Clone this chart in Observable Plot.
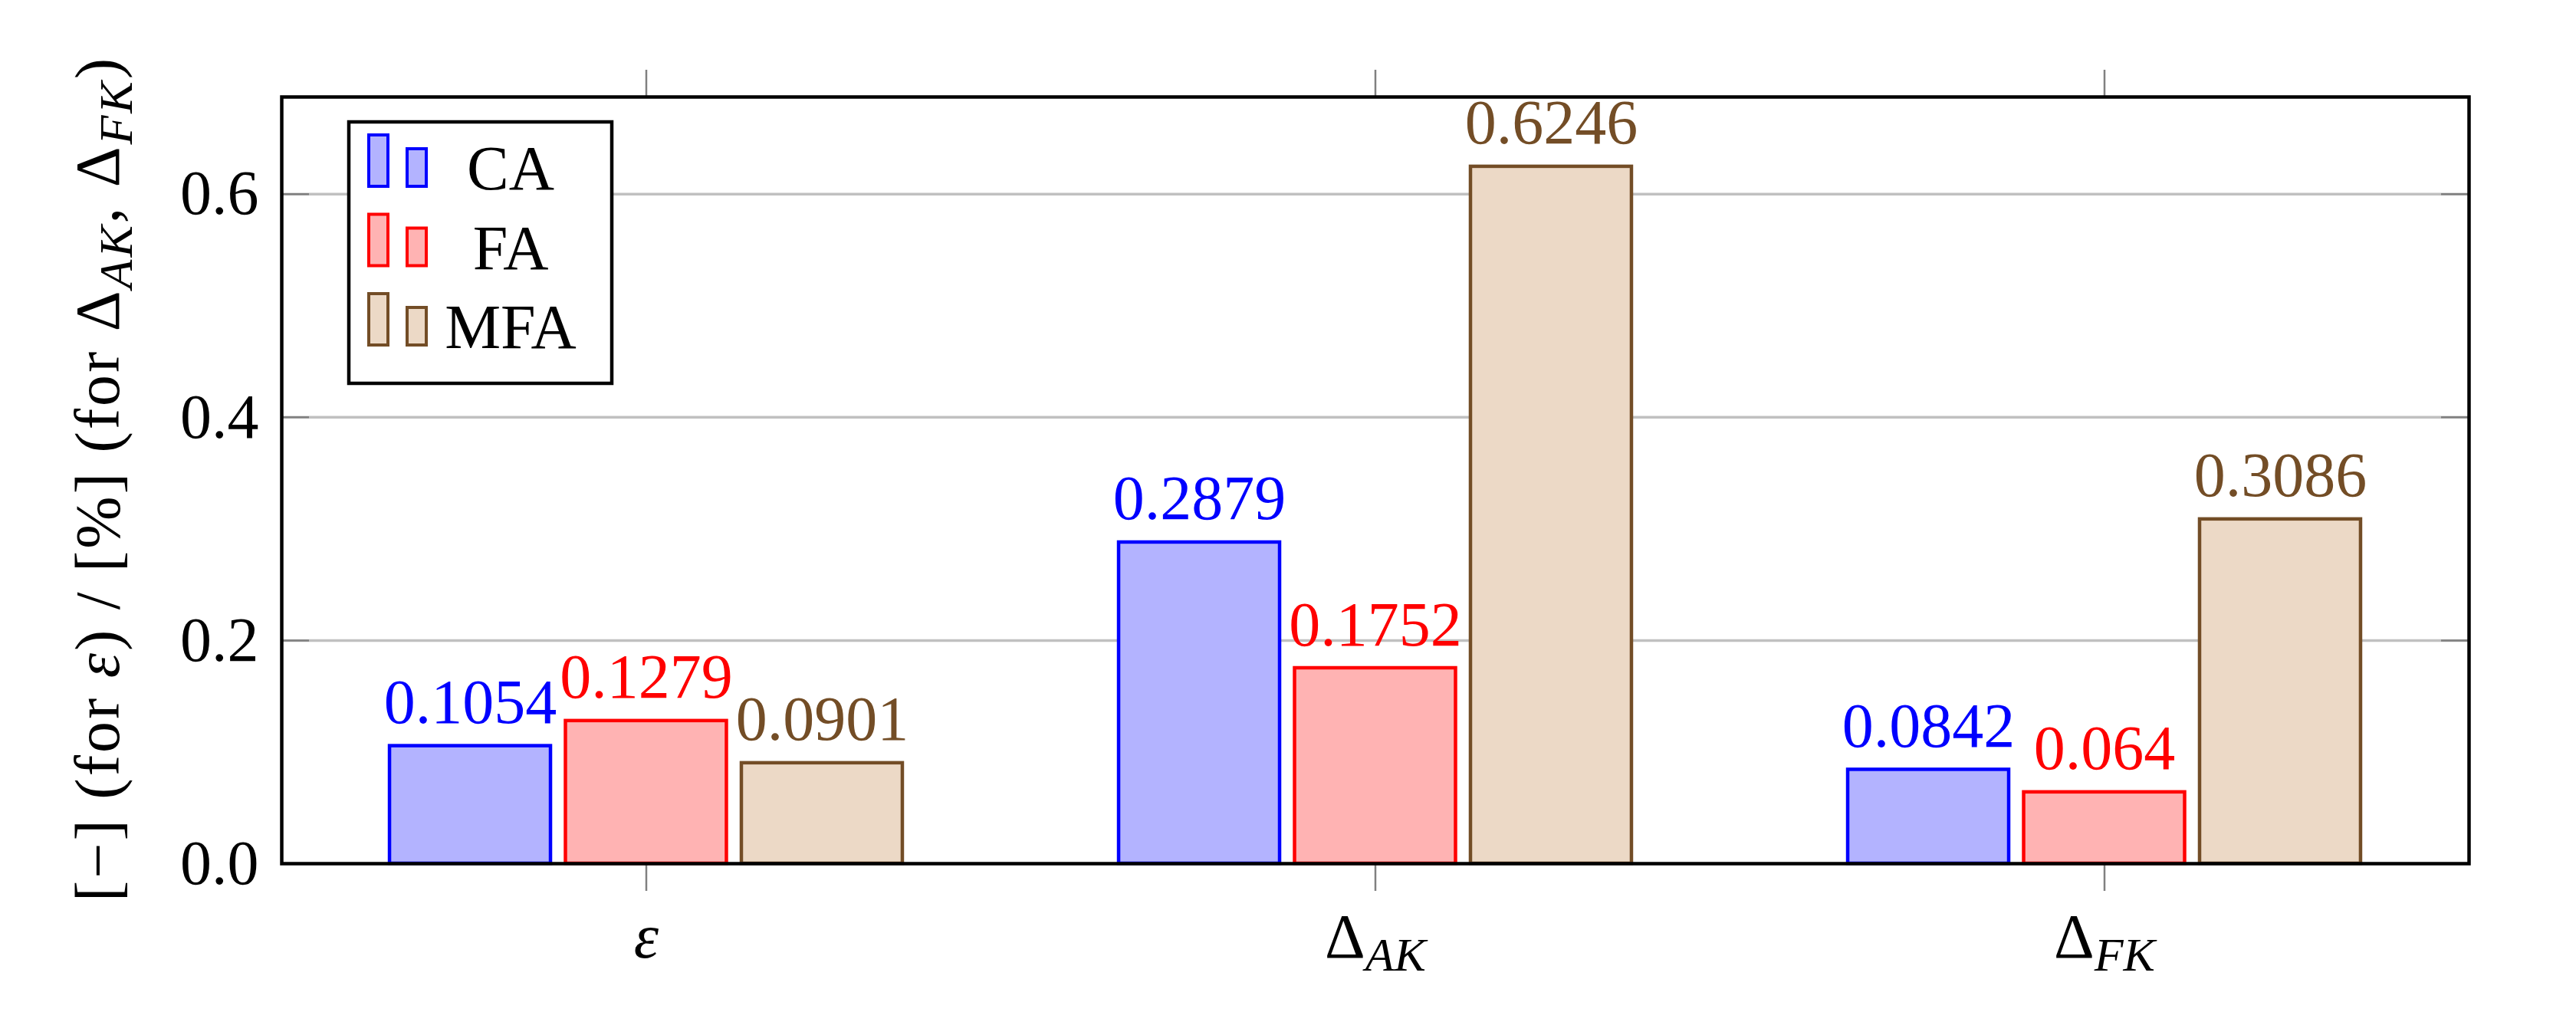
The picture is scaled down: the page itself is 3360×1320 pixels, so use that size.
<!DOCTYPE html>
<html>
<head>
<meta charset="utf-8">
<script src="https://cdn.jsdelivr.net/npm/d3@7"></script>
<script src="https://cdn.jsdelivr.net/npm/@observablehq/plot@0.6"></script>
<style>
  html, body { margin: 0; padding: 0; background: #ffffff; }
  #chart svg { font-family: "Liberation Serif", "DejaVu Serif", serif; }
</style>
</head>
<body>
<div id="chart"></div>
<script>
// ---- data ----
const categories = ["ε", "Δ_AK", "Δ_FK"];
const series = ["CA", "FA", "MFA"];
const CA = [0.1054, 0.2879, 0.0842];
const FA = [0.1279, 0.1752, 0.064];
const MFA = [0.0901, 0.6246, 0.3086];
const yTicks = [0, 0.2, 0.4, 0.6];
const yLabelParts = [["[−] (for ", ""], ["ε", "it"], [") / [%] (for Δ", ""], ["AK", "sub"], [", Δ", ""], ["FK", "sub"], [")", ""]];

// ---- styles ----
const strokeColors = ["#0000ff", "#ff0000", "#734d26"];
const fillColors = ["#b3b3ff", "#ffb3b3", "#ecd9c6"];

const values = [CA, FA, MFA];
const rows = [];
series.forEach((s, i) => categories.forEach((c, j) => rows.push({category: c, series: s, si: i, value: values[i][j]})));

const W = 3360, H = 1320;
const mL = 367, mR = 140, mT = 126, mB = 194;
const plotW = W - mL - mR;
const step = plotW / categories.length;
const barW = step * 0.2208;      // rect geometry width
const pitch = step * 0.2413;     // distance between bar centres
const FS = 82;

const yMax = Math.max(...CA, ...FA, ...MFA) * 1.1;

const marks = [
  Plot.gridY(yTicks.filter(d => d > 0), {stroke: "#c0c0c0", strokeOpacity: 1, strokeWidth: 3.5})
];
series.forEach((s, i) => {
  const off = (i - 1) * pitch;
  const base = (step - barW) / 2;
  const data = rows.filter(r => r.si === i);
  marks.push(Plot.barY(data, {
    x: "category", y: "value",
    fill: fillColors[i], stroke: strokeColors[i], strokeWidth: 4.5,
    insetLeft: base + off, insetRight: base - off
  }));
  marks.push(Plot.text(data, {
    x: "category", y: "value", text: d => String(d.value),
    dx: off, dy: -30, lineAnchor: "bottom", textAnchor: "middle",
    fill: strokeColors[i], fontSize: FS
  }));
});
marks.push(
  Plot.tickY(yTicks, {y: d => d, insetRight: plotW - 36, stroke: "#808080", strokeWidth: 2.5}),
  Plot.tickY(yTicks, {y: d => d, insetLeft: plotW - 36, stroke: "#808080", strokeWidth: 2.5}),
  Plot.axisX({anchor: "bottom", tickSize: 36, tickPadding: 28, stroke: "#808080", strokeWidth: 2.5, fill: "black", fontSize: FS, label: null}),
  Plot.axisX({anchor: "top", tickSize: 36, tickFormat: () => "", stroke: "#808080", strokeWidth: 2.5, label: null}),
  Plot.axisY({anchor: "left", ticks: yTicks, tickFormat: d3.format(".1f"), tickSize: 0, tickPadding: 30, fontSize: FS, fill: "black", label: null}),
  Plot.frame({stroke: "black", strokeWidth: 4.5})
);

const chart = Plot.plot({
  width: W, height: H,
  marginLeft: mL, marginRight: mR, marginTop: mT, marginBottom: mB,
  style: {background: "#ffffff", fontFamily: "Liberation Serif, DejaVu Serif, serif", fontSize: FS + "px", color: "black"},
  x: {type: "band", domain: categories, padding: 0},
  y: {domain: [0, yMax], nice: false},
  marks
});
document.getElementById("chart").appendChild(chart);

const svg = d3.select(chart);

// x tick labels with subscripts
svg.selectAll('g[aria-label="x-axis tick label"] text').each(function () {
  const t = d3.select(this);
  const raw = this.textContent;
  const [main, sub] = raw.split("_");
  t.text(null);
  if (main === "ε") {
    t.append("tspan").attr("font-style", "italic").text(main);
  } else {
    t.append("tspan").text(main);
  }
  if (sub) {
    t.append("tspan").attr("font-style", "italic").attr("font-size", 62).attr("dy", 17).text(sub);
  }
});

// y label
const yl = svg.append("text")
  .attr("transform", `translate(155,${mT + (H - mT - mB) / 2}) rotate(-90)`)
  .attr("text-anchor", "middle")
  .attr("font-size", FS)
  .attr("fill", "black")
  .attr("textLength", 1100)
  .attr("lengthAdjust", "spacing");
yLabelParts.forEach(([txt, kind], k) => {
  const ts = yl.append("tspan").text(txt);
  if (kind === "it") ts.attr("font-style", "italic");
  if (kind === "sub") ts.attr("font-style", "italic").attr("font-size", 62).attr("dy", 17);
  else if (k > 0 && yLabelParts[k - 1][1] === "sub") ts.attr("dy", -17);
});

// legend
const lg = svg.append("g").attr("aria-label", "legend");
lg.append("rect").attr("x", 455).attr("y", 159).attr("width", 343).attr("height", 341)
  .attr("fill", "white").attr("stroke", "black").attr("stroke-width", 4.5);
series.forEach((s, i) => {
  const base = 247 + i * 103.5;
  lg.append("rect").attr("x", 481).attr("y", base - 71).attr("width", 25).attr("height", 67)
    .attr("fill", fillColors[i]).attr("stroke", strokeColors[i]).attr("stroke-width", 4);
  lg.append("rect").attr("x", 531).attr("y", base - 53).attr("width", 25).attr("height", 49)
    .attr("fill", fillColors[i]).attr("stroke", strokeColors[i]).attr("stroke-width", 4);
  lg.append("text").attr("x", 666).attr("y", base).attr("text-anchor", "middle")
    .attr("font-size", FS).attr("fill", "black").text(s);
});
</script>
</body>
</html>
